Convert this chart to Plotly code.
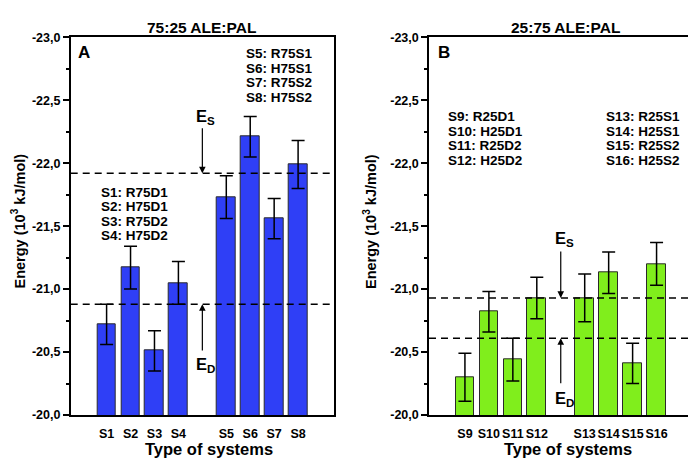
import plotly.graph_objects as go

# ---------------- data ----------------
cats_a = ["S1", "S2", "S3", "S4", "S5", "S6", "S7", "S8"]
vals_a = [-20.72, -21.17, -20.51, -21.05, -21.73, -22.21, -21.56, -21.99]
errs_a = [0.16, 0.17, 0.16, 0.17, 0.17, 0.16, 0.16, 0.19]

cats_b = ["S9", "S10", "S11", "S12", "S13", "S14", "S15", "S16"]
vals_b = [-20.30, -20.82, -20.44, -20.93, -20.93, -21.13, -20.41, -21.20]
errs_b = [0.19, 0.16, 0.17, 0.165, 0.19, 0.165, 0.16, 0.17]

es_a, ed_a = -21.92, -20.88
es_b, ed_b = -20.93, -20.61

legend_a_left = ["S1: R75D1", "S2: H75D1", "S3: R75D2", "S4: H75D2"]
legend_a_right = ["S5: R75S1", "S6: H75S1", "S7: R75S2", "S8: H75S2"]
legend_b_left = ["S9: R25D1", "S10: H25D1", "S11: R25D2", "S12: H25D2"]
legend_b_right = ["S13: R25S1", "S14: H25S1", "S15: R25S2", "S16: H25S2"]

ytick_vals = [-20.0, -20.5, -21.0, -21.5, -22.0, -22.5, -23.0]
ytick_text = ["-20,0", "-20,5", "-21,0", "-21,5", "-22,0", "-22,5", "-23,0"]

# -------------- layout helpers --------------
W, H = 696, 463
OFF = 8  # page body margin offset of the plot div
FONT = "Liberation Sans, Arial, sans-serif"
BLUE = "#2f3ff6"
GREEN = "#80ee1c"

# bar positions: two groups of 4 with one empty slot between
pos = [i + 1 if i < 4 else i + 2 for i in range(8)]


def px_x(p):
    return (p - OFF) / W


def px_y(p):
    return 1 - (p - OFF) / H


def b(t):
    return f"<b>{t}</b>"


fig = go.Figure()
for cats, vals, errs, color, xa, ya in [
    (cats_a, vals_a, errs_a, BLUE, "x", "y"),
    (cats_b, vals_b, errs_b, GREEN, "x2", "y2"),
]:
    fig.add_trace(go.Bar(
        x=pos, y=vals, width=0.78, xaxis=xa, yaxis=ya,
        marker=dict(color=color, line=dict(color="#2a2a2a", width=1)),
        error_y=dict(type="data", array=errs, visible=True, color="black",
                     thickness=1.5, width=6.5),
        showlegend=False,
    ))

ydom = [px_y(415), px_y(37.3)]
xdom_a = [px_x(70.7), px_x(334)]
xdom_b = [px_x(429), px_x(692.5)]

axis_common = dict(showline=True, linewidth=1.5, linecolor="black", mirror=True,
                   showgrid=False, zeroline=False, automargin=False)
xaxis_common = dict(axis_common, range=[-0.5, 10.5], tickvals=pos, ticks="",
                    ticklabelstandoff=6, tickangle=0,
                    tickfont=dict(family=FONT, size=12.5, color="black"))
yaxis_common = dict(axis_common, range=[-20, -23], tickvals=ytick_vals,
                    ticktext=[b(t) for t in ytick_text],
                    ticks="outside", ticklen=6, tickwidth=1.5, tickcolor="black",
                    minor=dict(dtick=0.25, tick0=-20, ticks="outside", ticklen=3,
                               tickwidth=1.5, tickcolor="black"),
                    tickfont=dict(family=FONT, size=12.5, color="black"))

fig.update_layout(
    width=W, height=H, margin=dict(l=0, r=0, t=0, b=0, pad=0, autoexpand=False),
    paper_bgcolor="white", plot_bgcolor="white", bargap=0,
    xaxis=dict(xaxis_common, domain=xdom_a, ticktext=[b(c) for c in cats_a], anchor="y"),
    yaxis=dict(yaxis_common, domain=ydom, anchor="x"),
    xaxis2=dict(xaxis_common, domain=xdom_b, ticktext=[b(c) for c in cats_b], anchor="y2"),
    yaxis2=dict(yaxis_common, domain=ydom, anchor="x2"),
)

shapes = []
anns = []
font = lambda s: dict(family=FONT, size=s, color="black")

for xa, ya, es, ed in [("x", "y", es_a, ed_a), ("x2", "y2", es_b, ed_b)]:
    for yv in (es, ed):
        shapes.append(dict(type="line", xref=f"{xa} domain", yref=ya, x0=0, x1=1,
                           y0=yv, y1=yv, layer="above",
                           line=dict(color="black", width=1.5, dash="7px,5px")))

# arrows (tail -> head at the dashed line) and their labels
arrow_specs = [
    ("x", "y", es_a, -22.29, "E<sub>S</sub>", -22.37),
    ("x", "y", ed_a, -20.50, "E<sub>D</sub>", -20.40),
    ("x2", "y2", es_b, -21.31, "E<sub>S</sub>", -21.40),
    ("x2", "y2", ed_b, -20.24, "E<sub>D</sub>", -20.13),
]
for xa, ya, head, tail, label, ly in arrow_specs:
    anns.append(dict(xref=xa, yref=ya, x=5, y=head, ax=5, ay=tail,
                     axref=xa, ayref=ya, text="", showarrow=True,
                     arrowhead=2, arrowsize=1.1, arrowwidth=1.2, arrowcolor="black"))
    anns.append(dict(xref=xa, yref=ya, x=5.15, y=ly, text=b(label), showarrow=False,
                     xanchor="center", yanchor="middle", font=font(16.5)))

# system legends (one line per annotation)
LINE = 0.115
for xa, ya, lines, x0, y0 in [
    ("x", "y", legend_a_left, 0.70, -21.77),
    ("x", "y", legend_a_right, 6.74, -22.87),
    ("x2", "y2", legend_b_left, 0.22, -22.37),
    ("x2", "y2", legend_b_right, 6.81, -22.37),
]:
    for i, t in enumerate(lines):
        anns.append(dict(xref=xa, yref=ya, x=x0, y=y0 + i * LINE, text=b(t),
                         showarrow=False, xanchor="left", yanchor="middle",
                         font=font(13.5)))

# panel letters
anns.append(dict(xref="x", yref="y", x=-0.28, y=-22.88, text=b("A"), showarrow=False,
                 xanchor="left", yanchor="middle", font=font(17)))
anns.append(dict(xref="x2", yref="y2", x=-0.22, y=-22.88, text=b("B"), showarrow=False,
                 xanchor="left", yanchor="middle", font=font(17)))

# panel titles
for xc, t in ((201, "75:25 ALE:PAL"), (565, "25:75 ALE:PAL")):
    anns.append(dict(xref="paper", yref="paper", x=px_x(xc), y=px_y(27), text=b(t),
                     showarrow=False, xanchor="center", yanchor="middle", font=font(15.5)))

# axis titles
for xc in (209, 567.5):
    anns.append(dict(xref="paper", yref="paper", x=px_x(xc), y=px_y(449),
                     text=b("Type of systems"), showarrow=False,
                     xanchor="center", yanchor="middle", font=font(16.5)))
for xc in (18.5, 370):
    anns.append(dict(xref="paper", yref="paper", x=px_x(xc), y=px_y(221),
                     text=b("Energy (10<sup>3</sup> kJ/mol)"), textangle=-90,
                     showarrow=False, xanchor="center", yanchor="middle", font=font(14.5)))

fig.update_layout(shapes=shapes, annotations=anns)
fig.write_html("out.html")
